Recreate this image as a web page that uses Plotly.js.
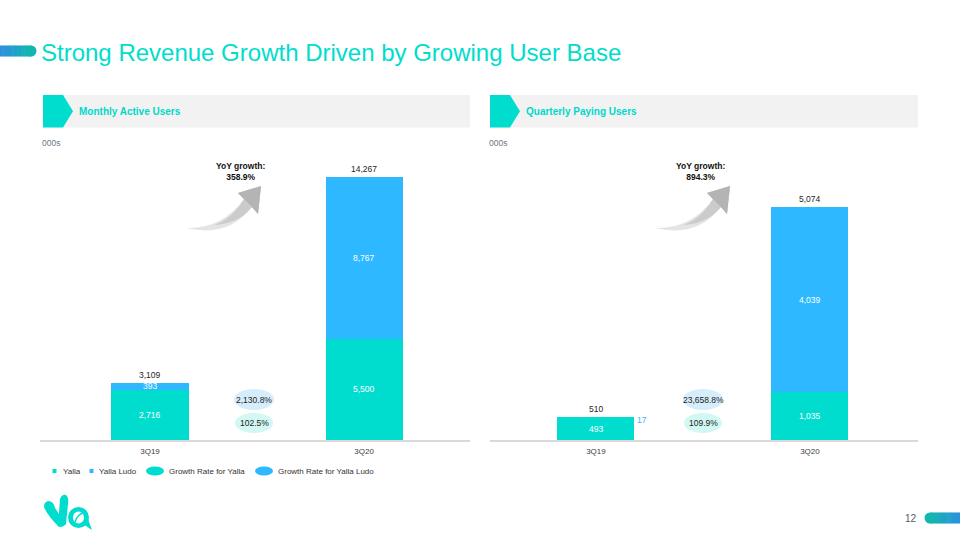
<!DOCTYPE html>
<html>
<head>
<meta charset="utf-8">
<script src="https://cdn.plot.ly/plotly-3.0.1.min.js"></script>
<style>html,body{margin:0;padding:0;background:#fff;}#chart{width:960px;height:540px;}</style>
</head>
<body>
<div id="chart"></div>
<script>
// ---- data ----
const categories = ['3Q19', '3Q20'];
const mauYalla = [2716, 5500];
const mauLudo = [393, 8767];
const mauTotal = [3109, 14267];
const payYalla = [493, 1035];
const payLudo = [17, 4039];
const payTotal = [510, 5074];
const mauGrowthYalla = '102.5%';
const mauGrowthLudo = '2,130.8%';
const mauGrowthTotal = '358.9%';
const payGrowthYalla = '109.9%';
const payGrowthLudo = '23,658.8%';
const payGrowthTotal = '894.3%';
const pageTitle = 'Strong Revenue Growth Driven by Growing User Base';
const leftHeader = 'Monthly Active Users';
const rightHeader = 'Quarterly Paying Users';
const unitLabel = '000s';
const legendLabels = ['Yalla', 'Yalla Ludo', 'Growth Rate for Yalla', 'Growth Rate for Yalla Ludo'];
const pageNumber = '12';

// ---- style ----
const TEAL = '#00DDCF';
const BLUE = '#2EB8FF';
const FONT = 'Liberation Sans, Arial, sans-serif';
const W = 960, H = 540;
const X = p => p / W;
const Y = p => 1 - p / H;
function P(str) {
  const toks = str.trim().split(/\s+/);
  let out = [], n = 0;
  for (const t of toks) {
    if (/^[A-Za-z]$/.test(t)) { out.push(t); n = 0; }
    else { out.push(n % 2 === 0 ? X(+t).toFixed(5) : Y(+t).toFixed(5)); n++; }
  }
  return out.join(' ');
}
const fmt = v => v.toLocaleString('en-US');

const barW = 0.36;
const traces = [
  {type: 'bar', x: categories, y: mauYalla, xaxis: 'x', yaxis: 'y', marker: {color: TEAL}, width: barW, showlegend: false, hoverinfo: 'skip'},
  {type: 'bar', x: categories, y: mauLudo, xaxis: 'x', yaxis: 'y', marker: {color: BLUE}, width: barW, showlegend: false, hoverinfo: 'skip'},
  {type: 'bar', x: categories, y: payYalla, xaxis: 'x2', yaxis: 'y2', marker: {color: TEAL}, width: barW, showlegend: false, hoverinfo: 'skip'},
  {type: 'bar', x: categories, y: payLudo, xaxis: 'x2', yaxis: 'y2', marker: {color: BLUE}, width: barW, showlegend: false, hoverinfo: 'skip'}
];

const yDom = [100 / H, 280 / H + 100 / H];
const xAxisCommon = {
  type: 'category', showline: true, linecolor: '#D9D9D9', linewidth: 1.5,
  showgrid: false, zeroline: false, ticks: 'outside', ticklen: 3, tickcolor: 'rgba(0,0,0,0)',
  tickfont: {family: FONT, size: 8, color: '#404040'}, fixedrange: true, anchor: 'free', position: 100 / H
};

const shapes = [];
const annotations = [];
function txt(x, y, text, font, xanchor) {
  annotations.push({xref: 'paper', yref: 'paper', x: X(x), y: Y(y), xanchor: xanchor || 'center', yanchor: 'middle', showarrow: false, text: text, font: font});
}

// title pill (gradient)
const pillSegs = 14;
function mix(c1, c2, t) {
  const a = c1.match(/\w\w/g).map(h => parseInt(h, 16));
  const b = c2.match(/\w\w/g).map(h => parseInt(h, 16));
  return 'rgb(' + a.map((v, i) => Math.round(v + (b[i] - v) * t)).join(',') + ')';
}
for (let i = 0; i < pillSegs; i++) {
  const x0 = i * 31 / pillSegs, x1 = (i + 1) * 31 / pillSegs + 0.5;
  shapes.push({type: 'rect', xref: 'paper', yref: 'paper', x0: X(x0), x1: X(x1), y0: Y(56.5), y1: Y(45.5),
    fillcolor: mix('2F8EE0', '10B6B2', i / (pillSegs - 1)), line: {width: 0}});
}
shapes.push({type: 'circle', xref: 'paper', yref: 'paper', x0: X(25.5), x1: X(36.5), y0: Y(56.5), y1: Y(45.5), fillcolor: '#10B6B2', line: {width: 0}});

// bottom-right pill
for (let i = 0; i < pillSegs; i++) {
  const x0 = 930 + i * 30 / pillSegs, x1 = 930 + (i + 1) * 30 / pillSegs + 0.5;
  shapes.push({type: 'rect', xref: 'paper', yref: 'paper', x0: X(x0), x1: X(x1), y0: Y(523.5), y1: Y(512.5),
    fillcolor: mix('14B5AE', '2A93DC', i / (pillSegs - 1)), line: {width: 0}});
}
shapes.push({type: 'circle', xref: 'paper', yref: 'paper', x0: X(924.5), x1: X(935.5), y0: Y(523.5), y1: Y(512.5), fillcolor: '#14B5AE', line: {width: 0}});

txt(39, 52, pageTitle, {family: FONT, size: 24, color: '#00DDCB'}, 'left');

// panel headers
[[43, 470, leftHeader], [490, 918, rightHeader]].forEach(([x0, x1, t]) => {
  shapes.push({type: 'rect', xref: 'paper', yref: 'paper', x0: X(x0), x1: X(x1), y0: Y(127.5), y1: Y(95), fillcolor: '#F2F2F2', line: {width: 0}});
  shapes.push({type: 'path', xref: 'paper', yref: 'paper', path: P(`M ${x0} 95 L ${x0 + 20} 95 L ${x0 + 30} 111.25 L ${x0 + 20} 127.5 L ${x0} 127.5 Z`), fillcolor: TEAL, line: {width: 0}});
  txt(x0 + 34, 112, '<b>' + t + '</b>', {family: FONT, size: 10, color: '#00D8CA'}, 'left');
  txt(x0 - 3, 143, unitLabel, {family: FONT, size: 8.5, color: '#707884'}, 'left');
});

// growth arrows + YoY text
[[0, 240, mauGrowthTotal], [469, 700, payGrowthTotal]].forEach(([dx, cx, g]) => {
  const s = (str) => str.replace(/(-?\d+\.?\d*) (-?\d+\.?\d*)/g, (m, a, b) => (+a + dx) + ' ' + b);
  shapes.push({type: 'path', xref: 'paper', yref: 'paper', path: P(s('M 186 228 Q 222 229 244 199 L 238 193 L 261 186 L 258 214 L 252 207 Q 228 238 186 228 Z')),
    fillcolor: '#E4E4E4', line: {width: 0}});
  shapes.push({type: 'path', xref: 'paper', yref: 'paper', path: P(s('M 214 225 Q 232 219 244 199 L 238 193 L 261 186 L 258 214 L 252 207 Q 238 224 214 225 Z')),
    fillcolor: '#CBCBCB', line: {width: 0}});
  shapes.push({type: 'path', xref: 'paper', yref: 'paper', path: P(s('M 238 193 L 261 186 L 258 214 L 252 207 L 244 199 Z')),
    fillcolor: '#B4B4B4', line: {width: 0}});
  txt(cx, 171.5, '<b>YoY growth:</b><br><b>' + g + '</b>', {family: FONT, size: 8.5, color: '#111'});
});

// growth ellipses
[[254, mauGrowthLudo, mauGrowthYalla], [703, payGrowthLudo, payGrowthYalla]].forEach(([cx, gl, gy]) => {
  shapes.push({type: 'circle', xref: 'paper', yref: 'paper', x0: X(cx - 20), x1: X(cx + 20), y0: Y(410), y1: Y(389), fillcolor: '#D6EEFC', line: {width: 0}});
  shapes.push({type: 'circle', xref: 'paper', yref: 'paper', x0: X(cx - 19), x1: X(cx + 19), y0: Y(433), y1: Y(413), fillcolor: '#D2F8F4', line: {width: 0}});
  txt(cx, 400, gl, {family: FONT, size: 8.5, color: '#222'});
  txt(cx, 423, gy, {family: FONT, size: 8.5, color: '#222'});
});

// bar labels from data
function barLabels(xa, ya, yal, tot) {
  categories.forEach((c, i) => {
    annotations.push({xref: xa, yref: ya, x: c, y: yal[i] / 2, xanchor: 'center', showarrow: false, text: fmt(yal[i]), font: {family: FONT, size: 8.5, color: '#FFFFFF'}});
    annotations.push({xref: xa, yref: ya, x: c, y: tot[i], xanchor: 'center', yanchor: 'bottom', yshift: 1, showarrow: false, text: fmt(tot[i]), font: {family: FONT, size: 8.5, color: '#262626'}});
  });
}
barLabels('x', 'y', mauYalla, mauTotal);
barLabels('x2', 'y2', payYalla, payTotal);
categories.forEach((c, i) => {
  annotations.push({xref: 'x', yref: 'y', x: c, y: mauYalla[i] + mauLudo[i] / 2, xanchor: 'center', showarrow: false, text: fmt(mauLudo[i]), font: {family: FONT, size: 8.5, color: '#FFFFFF'}});
});
annotations.push({xref: 'x2', yref: 'y2', x: categories[1], y: payYalla[1] + payLudo[1] / 2, xanchor: 'center', showarrow: false, text: fmt(payLudo[1]), font: {family: FONT, size: 8.5, color: '#FFFFFF'}});
annotations.push({xref: 'x2', yref: 'y2', x: categories[0], y: payYalla[0] + payLudo[0] / 2, xanchor: 'center', xshift: 46, yshift: -3, showarrow: false, text: fmt(payLudo[0]), font: {family: FONT, size: 8.5, color: '#3AB4F0'}});

// custom legend
shapes.push({type: 'rect', xref: 'paper', yref: 'paper', x0: X(52.5), x1: X(56.5), y0: Y(473), y1: Y(469), fillcolor: TEAL, line: {width: 0}});
shapes.push({type: 'rect', xref: 'paper', yref: 'paper', x0: X(89.5), x1: X(93.5), y0: Y(473), y1: Y(469), fillcolor: BLUE, line: {width: 0}});
shapes.push({type: 'circle', xref: 'paper', yref: 'paper', x0: X(146), x1: X(164), y0: Y(475.5), y1: Y(466.5), fillcolor: TEAL, line: {width: 0}});
shapes.push({type: 'circle', xref: 'paper', yref: 'paper', x0: X(255), x1: X(273), y0: Y(475.5), y1: Y(466.5), fillcolor: BLUE, line: {width: 0}});
[[61, legendLabels[0]], [97, legendLabels[1]], [167, legendLabels[2]], [276, legendLabels[3]]].forEach(([x, t]) => {
  txt(x, 471, t, {family: FONT, size: 8, color: '#333'}, 'left');
});

// page number
txt(919, 518, pageNumber, {family: FONT, size: 10, color: '#595959'}, 'right');

// logo
shapes.push({type: 'path', xref: 'paper', yref: 'paper', path: P('M 44 507 Q 44 501 49 501 Q 54 502 55 508 L 63 520 L 59 527 Q 47 515 44 507 Z'), fillcolor: TEAL, line: {width: 0}});
shapes.push({type: 'path', xref: 'paper', yref: 'paper', path: P('M 60 499 Q 62 494 66 495 Q 69 497 68 504 L 66 524 Q 62 529 58 526 Z'), fillcolor: TEAL, line: {width: 0}});
shapes.push({type: 'circle', xref: 'paper', yref: 'paper', x0: X(68), x1: X(89), y0: Y(528), y1: Y(507), fillcolor: TEAL, line: {width: 0}});
shapes.push({type: 'path', xref: 'paper', yref: 'paper', path: P('M 83 524 L 92 530 L 88 519 Z'), fillcolor: TEAL, line: {width: 0}});
shapes.push({type: 'circle', xref: 'paper', yref: 'paper', x0: X(73), x1: X(84), y0: Y(523.5), y1: Y(511.5), fillcolor: '#FFFFFF', line: {width: 0}});
shapes.push({type: 'path', xref: 'paper', yref: 'paper', path: P('M 75 522 Q 78 514 83 513'), line: {color: TEAL, width: 1.5}});

const layout = {
  width: W, height: H,
  margin: {l: 0, r: 0, t: 0, b: 0},
  paper_bgcolor: '#FFFFFF', plot_bgcolor: 'rgba(0,0,0,0)',
  barmode: 'stack', showlegend: false,
  font: {family: FONT},
  xaxis: Object.assign({}, xAxisCommon, {domain: [X(40), X(470)], range: [-0.514, 1.495]}),
  xaxis2: Object.assign({}, xAxisCommon, {domain: [X(490), X(918)], range: [-0.495, 1.505]}),
  yaxis: {domain: yDom, range: [0, 280 / (263 / 14267)], visible: false, fixedrange: true},
  yaxis2: {domain: yDom, range: [0, 280 / (233 / 5074)], visible: false, fixedrange: true},
  shapes: shapes,
  annotations: annotations
};

Plotly.newPlot('chart', traces, layout, {displayModeBar: false, staticPlot: true});
</script>
</body>
</html>
